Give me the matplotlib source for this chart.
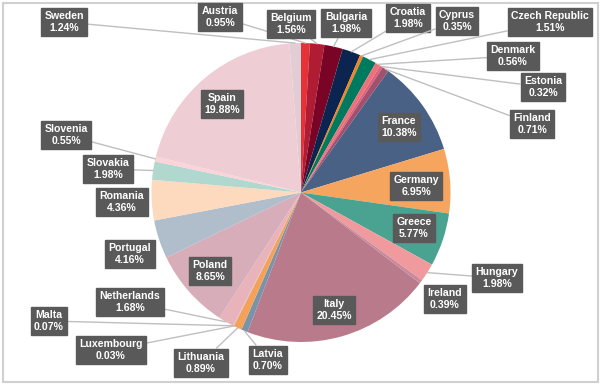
import numpy as np
import matplotlib
matplotlib.use('Agg')
import matplotlib.pyplot as plt
from matplotlib.patches import Rectangle

plt.rcParams['font.family'] = ['Liberation Sans', 'DejaVu Sans']

# datos (porcentajes por país, en el orden del gráfico)
paises = ['Austria', 'Belgium', 'Bulgaria', 'Croatia', 'Cyprus', 'Czech Republic',
          'Denmark', 'Estonia', 'Finland', 'France', 'Germany', 'Greece', 'Hungary',
          'Ireland', 'Italy', 'Latvia', 'Lithuania', 'Luxembourg', 'Malta',
          'Netherlands', 'Poland', 'Portugal', 'Romania', 'Slovakia', 'Slovenia',
          'Spain', 'Sweden']
valores = [0.95, 1.56, 1.98, 1.98, 0.35, 1.51, 0.56, 0.32, 0.71, 10.38, 6.95, 5.77,
           1.98, 0.39, 20.45, 0.70, 0.89, 0.03, 0.07, 1.68, 8.65, 4.16, 4.36, 1.98,
           0.55, 19.88, 1.24]

colores = ['#e63137', '#b01c33', '#7a0426', '#0c2550', '#f58220', '#007a5e',
           '#ef6f7a', '#d9637a', '#a34f6e', '#4a6186', '#f6a55e', '#4aa391',
           '#f19a9d', '#c98a9c', '#b97b8c', '#7b93a8', '#f4a257', '#9fb4c6',
           '#e8b0b8', '#e9b3bc', '#d6adb8', '#b0bdcb', '#fdd9bd', '#b1d8cf',
           '#fbd3d8', '#efcdd4', '#e3cdd4']

# posiciones de etiquetas en pixeles (x, y desde arriba) y si llevan linea guia
pos_etiquetas = {
    'Austria': (220, 17, True), 'Belgium': (291, 24, True), 'Bulgaria': (346, 23, True),
    'Croatia': (408, 18, True), 'Cyprus': (457, 21, True), 'Czech Republic': (550, 22, True),
    'Denmark': (513, 56, True), 'Estonia': (543, 87, True), 'Finland': (532, 124, True),
    'France': (399, 127, False), 'Germany': (416, 186, False), 'Greece': (414, 228, False),
    'Hungary': (497, 278, True), 'Ireland': (445, 299, False), 'Italy': (334, 310, False),
    'Latvia': (268, 360, True), 'Lithuania': (201, 363, True), 'Luxembourg': (111, 350, True),
    'Malta': (49, 321, True), 'Netherlands': (130, 302, True), 'Poland': (210, 271, False),
    'Portugal': (130, 254, False), 'Romania': (122, 202, False), 'Slovakia': (108, 169, True),
    'Slovenia': (66, 135, True), 'Spain': (222, 104, False), 'Sweden': (64, 22, True),
}

W, H = 600, 385
cx, cy, r = 301, H - 192.5, 149.5

fig = plt.figure(figsize=(6, 3.85), dpi=100)
ax = fig.add_axes([0, 0, 1, 1])

wedges, _ = ax.pie(valores, colors=colores, startangle=90, counterclock=False,
                   center=(cx, cy), radius=r, wedgeprops=dict(linewidth=0))

ax.set_xlim(0, W)
ax.set_ylim(0, H)
ax.axis('off')

caja = dict(boxstyle='square,pad=0.32', fc='#595959', ec='#595959')

for w, nombre, v in zip(wedges, paises, valores):
    lx, ly, guia = pos_etiquetas[nombre]
    ang = np.deg2rad((w.theta1 + w.theta2) / 2)
    px, py = cx + r * np.cos(ang), cy + r * np.sin(ang)
    texto = f'{nombre}\n{v:.2f}%'
    if guia:
        ax.annotate(texto, xy=(px, py), xytext=(lx, H - ly), ha='center', va='center',
                    fontsize=7.6, fontweight='bold', color='white', bbox=caja,
                    linespacing=1.25,
                    arrowprops=dict(arrowstyle='-', color='#bfbfbf', lw=1,
                                    shrinkA=0, shrinkB=0))
    else:
        ax.text(lx, H - ly, texto, ha='center', va='center', fontsize=7.6,
                fontweight='bold', color='white', bbox=caja, linespacing=1.25)

ax.add_patch(Rectangle((3, 3), 595, 379, fill=False, ec='#d0d0d0', lw=1.5))

fig.savefig('out.png', dpi=100)
